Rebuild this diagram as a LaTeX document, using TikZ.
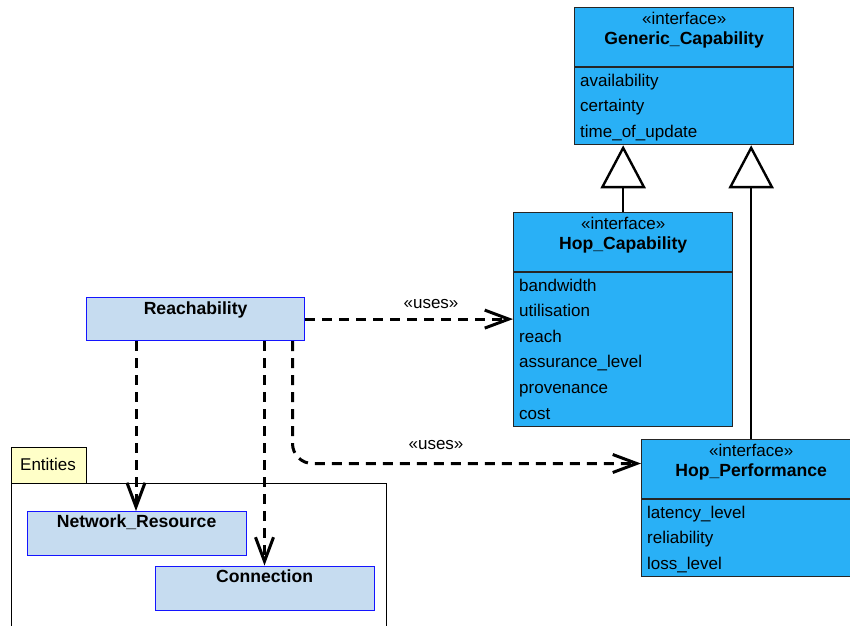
\documentclass[tikz,border=0pt]{standalone}
\usepackage{fontspec}
\setmainfont{Liberation Sans}
\usetikzlibrary{arrows.meta,calc}

\definecolor{ifblue}{HTML}{29B0F6}
\definecolor{clsfill}{HTML}{C6DCF0}
\definecolor{clsline}{HTML}{1414FF}
\definecolor{pkgtab}{HTML}{FFFFC8}

\newcommand\regtext{\fontsize{17}{20}\selectfont}
\newcommand\boldtext{\fontsize{17.6}{20}\selectfont\bfseries}

\begin{document}
\begin{tikzpicture}[x=1pt,y=-1pt,
  ifbox/.style={draw=black!85, fill=ifblue, line width=1.3pt, anchor=north west,
                minimum width=219pt, inner sep=0pt},
  clsbox/.style={draw=clsline, fill=clsfill, line width=1.2pt, anchor=north west,
                 minimum width=219pt, minimum height=44pt, inner sep=0pt},
  stereo/.style={anchor=base, inner sep=0pt, font=\regtext},
  cname/.style={anchor=base, inner sep=0pt, font=\boldtext},
  attr/.style={anchor=base west, inner sep=0pt, font=\regtext},
  divider/.style={draw=black!85, line width=1.3pt},
  gen/.style={line width=2.4pt, -{Triangle[length=43pt, width=45pt, fill=white]}},
  dep/.style={line width=3pt, dash pattern=on 10pt off 7pt,
              -{Straight Barb[length=24pt, width=18pt]}},
  pkgline/.style={draw=black, line width=1pt}
]
\useasboundingbox (0,0) rectangle (850,625);
\clip (0,0) rectangle (850,625);

% ---- package "Entities" ----
\draw[pkgline, fill=white] (11,483) rectangle (386,640);
\node[pkgline, fill=pkgtab, anchor=north west, minimum width=75pt, minimum height=36.5pt,
      inner sep=0pt] (tab) at (11,446.5) {};
\node[attr] (tablbl) at (20,470.5) {Entities};

% ---- interface Generic_Capability ----
\node[ifbox, minimum height=137pt] (gc) at (574,7) {};
\draw[divider] ($(gc.north west)+(0,60)$) -- ($(gc.north east)+(0,60)$);
\node[stereo] (gcs) at ($(gc.north)+(0,17)$) {«interface»};
\node[cname]  (gcn) at ($(gc.north)+(0,37)$) {Generic\_Capability};
\node[attr] (gca1) at ($(gc.north west)+(6,79)$)    {availability};
\node[attr] (gca2) at ($(gc.north west)+(6,104.5)$) {certainty};
\node[attr] (gca3) at ($(gc.north west)+(6,130)$)   {time\_of\_update};

% ---- interface Hop_Capability ----
\node[ifbox, minimum height=214pt] (hc) at (513,212) {};
\draw[divider] ($(hc.north west)+(0,60)$) -- ($(hc.north east)+(0,60)$);
\node[stereo] (hcs) at ($(hc.north)+(0,17)$) {«interface»};
\node[cname]  (hcn) at ($(hc.north)+(0,37)$) {Hop\_Capability};
\node[attr] (hca1) at ($(hc.north west)+(6,79)$)    {bandwidth};
\node[attr] (hca2) at ($(hc.north west)+(6,104.6)$) {utilisation};
\node[attr] (hca3) at ($(hc.north west)+(6,130.2)$) {reach};
\node[attr] (hca4) at ($(hc.north west)+(6,155.8)$) {assurance\_level};
\node[attr] (hca5) at ($(hc.north west)+(6,181.4)$) {provenance};
\node[attr] (hca6) at ($(hc.north west)+(6,207)$)   {cost};

% ---- interface Hop_Performance ----
\node[ifbox, minimum height=137pt] (hp) at (641,439) {};
\draw[divider] ($(hp.north west)+(0,60)$) -- ($(hp.north east)+(0,60)$);
\node[stereo] (hps) at ($(hp.north)+(0,17)$) {«interface»};
\node[cname]  (hpn) at ($(hp.north)+(0,37)$) {Hop\_Performance};
\node[attr] (hpa1) at ($(hp.north west)+(6,79)$)    {latency\_level};
\node[attr] (hpa2) at ($(hp.north west)+(6,104.5)$) {reliability};
\node[attr] (hpa3) at ($(hp.north west)+(6,130)$)   {loss\_level};

% ---- classes ----
\node[clsbox, minimum width=218pt, minimum height=43pt] (reach) at (86,297) {};
\node[cname] (reachn) at ($(reach.north)+(0,17)$) {Reachability};
\node[clsbox] (nr) at (26.5,511) {};
\node[cname] (nrn) at ($(nr.north)+(0,16.5)$) {Network\_Resource};
\node[clsbox] (conn) at (154.5,565.5) {};
\node[cname] (connn) at ($(conn.north)+(0,16.5)$) {Connection};

% ---- generalisations ----
\draw[gen] (hc.north) -- (hc.north |- gc.south);
\draw[gen] (hp.north) -- (hp.north |- gc.south);

% ---- dependencies ----
\coordinate (r1) at ($(reach.south west)+(50,0)$);
\coordinate (r2) at ($(reach.south west)+(178.5,0)$);
\coordinate (r3) at ($(reach.south west)+(206.5,0)$);
\coordinate (hpin) at ($(hp.north west)+(0,24.5)$);

\draw[dep] (reach.east) -- (reach.east -| hc.west);
\node[stereo] (uses1) at (431,308) {«uses»};
\draw[dep] (r1) -- (r1 |- nr.north);
\draw[dep] (r2) -- (r2 |- conn.north);
\draw[dep, rounded corners=20pt] (r3) |- (hpin);
\node[stereo] (uses2) at (436,449) {«uses»};
\end{tikzpicture}
\end{document}
